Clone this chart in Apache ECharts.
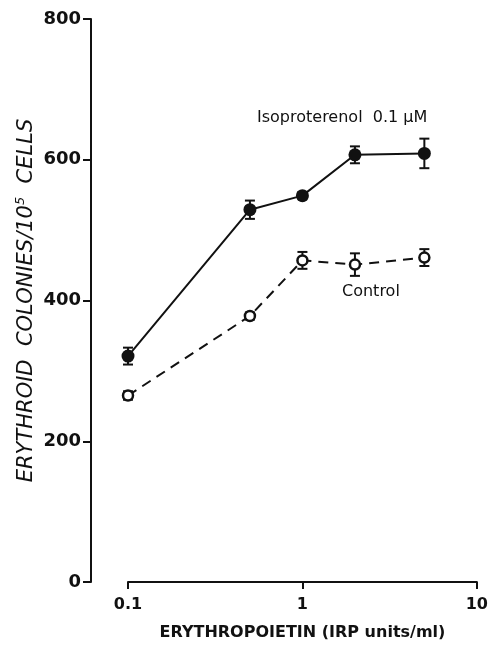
<!DOCTYPE html>
<html>
<head>
<meta charset="utf-8">
<script src="https://cdn.jsdelivr.net/npm/echarts@6/dist/echarts.min.js"></script>
<style>
  html, body { margin: 0; padding: 0; background: #fff; }
  #main { width: 491px; height: 646px; }
</style>
</head>
<body>
<div id="main"></div>
<script>
// 剂量 (IRP units/ml)
var doses = [0.1, 0.5, 1, 2, 5];
// Isoproterenol 0.1 µM
var isoMean = [321, 529, 549, 607, 609];
var isoErr = [12, 13, 5, 12, 21];
// Control
var ctrlMean = [265, 378, 457, 451, 461];
var ctrlErr = [6, 5, 12, 16, 12];
var xTicks = [0.1, 1, 10];
var yTicks = [0, 200, 400, 600, 800];

function pairs(xs, ys){
	var out = [];
	for(var i=0;i<xs.length;i++){
		out.push([xs[i], ys[i]]);
	}
	return out;
}
function bars(xs, ys, es){
	var out = [];
	for(var i=0;i<xs.length;i++){
		out.push([xs[i], ys[i]-es[i], ys[i]+es[i]]);
	}
	return out;
}

function renderErr(params, api){
	var x = api.value(0);
	var lo = api.coord([x, api.value(1)]);
	var hi = api.coord([x, api.value(2)]);
	var w = 5;
	var st = {stroke: '#111', lineWidth: 2};
	return {
		type: 'group',
		children: [
			{type: 'line', shape: {x1: lo[0], y1: lo[1], x2: hi[0], y2: hi[1]}, style: st},
			{type: 'line', shape: {x1: lo[0]-w, y1: lo[1], x2: lo[0]+w, y2: lo[1]}, style: st},
			{type: 'line', shape: {x1: hi[0]-w, y1: hi[1], x2: hi[0]+w, y2: hi[1]}, style: st}
		]
	};
}

var chart = echarts.init(document.getElementById('main'));
var font = 'DejaVu Sans';

chart.setOption({
	animation: false,
	backgroundColor: '#fff',
	grid: {left: 128, right: 10, top: 19, bottom: 58, containLabel: false},
	xAxis: {
		type: 'log',
		logBase: 10,
		min: 0.1,
		max: 10,
		name: 'ERYTHROPOIETIN (IRP units/ml)',
		nameLocation: 'middle',
		nameGap: 43,
		nameMoveOverlap: false,
		nameTextStyle: {fontFamily: font, fontWeight: 'bold', fontSize: 16, color: '#111'},
		axisLine: {show: true, lineStyle: {color: '#111', width: 2}},
		axisTick: {show: true, inside: false, length: 7, lineStyle: {color: '#111', width: 2}},
		minorTick: {show: false},
		splitLine: {show: false},
		axisLabel: {
			fontFamily: font, fontWeight: 'bold', fontSize: 16, color: '#111', margin: 15,
			formatter: function(v){ return xTicks.indexOf(v) >= 0 ? String(v) : ''; }
		}
	},
	yAxis: {
		type: 'value',
		min: yTicks[0],
		max: yTicks[yTicks.length-1],
		interval: 200,
		offset: 37,
		name: '{n|ERYTHROID  COLONIES/10}{s|5}{n|  CELLS}',
		nameLocation: 'middle',
		nameGap: 52,
		nameMoveOverlap: false,
		nameTextStyle: {
			rich: {
				n: {fontFamily: font, fontStyle: 'italic', fontSize: 21, color: '#111'},
				s: {fontFamily: font, fontStyle: 'italic', fontSize: 13, color: '#111', verticalAlign: 'top', padding: [0, 0, 12, 0]}
			}
		},
		axisLine: {show: true, lineStyle: {color: '#111', width: 2}},
		axisTick: {show: true, inside: false, length: 8, lineStyle: {color: '#111', width: 2}},
		splitLine: {show: false},
		axisLabel: {fontFamily: font, fontWeight: 'bold', fontSize: 18, color: '#111', margin: 10}
	},
	graphic: [
		{type: 'text', left: 257, top: 110, style: {text: 'Isoproterenol  0.1 µM', font: '16px "DejaVu Sans"', fill: '#111'}},
		{type: 'text', left: 342, top: 284, style: {text: 'Control', font: '16px "DejaVu Sans"', fill: '#111'}}
	],
	series: [
		{
			type: 'custom',
			renderItem: renderErr,
			data: bars(doses, isoMean, isoErr),
			encode: {x: 0, y: [1, 2]},
			z: 1
		},
		{
			type: 'custom',
			renderItem: renderErr,
			data: bars(doses, ctrlMean, ctrlErr),
			encode: {x: 0, y: [1, 2]},
			z: 1
		},
		{
			name: 'Isoproterenol 0.1 µM',
			type: 'line',
			data: pairs(doses, isoMean),
			symbol: 'circle',
			symbolSize: 13,
			itemStyle: {color: '#111'},
			lineStyle: {color: '#111', width: 2},
			z: 3
		},
		{
			name: 'Control',
			type: 'line',
			data: pairs(doses, ctrlMean),
			symbol: 'circle',
			symbolSize: 10,
			itemStyle: {color: '#fff', borderColor: '#111', borderWidth: 2.5},
			lineStyle: {color: '#111', width: 2, type: [10, 7]},
			z: 3
		}
	]
});
</script>
</body>
</html>
